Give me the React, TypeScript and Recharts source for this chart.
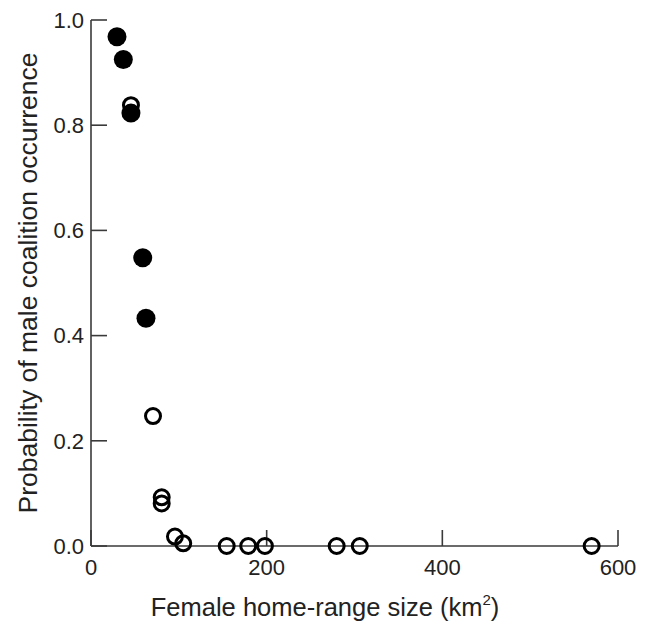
import React from 'react';
import { ScatterChart, Scatter, XAxis, YAxis } from 'recharts';

// female home-range size (km2) vs probability
const filledX = [29.6, 36.8, 45.5, 58.9, 62.6];
const filledY = [0.968, 0.925, 0.823, 0.548, 0.433];
const openX = [45.5, 70.6, 80.5, 80.5, 95.6, 105, 154.5, 179, 198, 279.7, 306, 570];
const openY = [0.838, 0.247, 0.0925, 0.081, 0.018, 0.005, 0, 0, 0, 0, 0, 0];
const xTicks = [0, 200, 400, 600];
const yTicks = [0, 0.2, 0.4, 0.6, 0.8, 1.0];

const filledData = filledX.map((x, i) => ({ x, y: filledY[i] }));
const openData = openX.map((x, i) => ({ x, y: openY[i] }));

const axisColor = '#3a3a3a';
const font = '"Liberation Sans", Arial, sans-serif';

const FilledDot = (props: any) => <circle cx={props.cx} cy={props.cy} r={9.5} fill="#000" />;
const OpenDot = (props: any) => (
  <circle cx={props.cx} cy={props.cy} r={7.5} fill="none" stroke="#000" strokeWidth={3} />
);

const App: React.FC = () => {
  return (
    <div style={{ position: 'absolute', left: 0, top: 0, width: 650, height: 626, background: '#fff' }}>
      <ScatterChart width={650} height={626} margin={{ top: 20, right: 32, left: 0, bottom: 0 }}>
        <XAxis
          type="number"
          dataKey="x"
          domain={[0, 600]}
          ticks={xTicks}
          height={80}
          stroke={axisColor}
          strokeWidth={1.6}
          tickSize={-16}
          tickMargin={29}
          tick={{ fill: '#222', fontSize: 22, fontFamily: font }}
          label={{
            content: () => (
              <text x={325} y={616} textAnchor="middle" fill="#222" fontSize={25.5} fontFamily={font}>
                Female home-range size (km
                <tspan dy={-11} fontSize={15}>2</tspan>
                <tspan dy={11}>)</tspan>
              </text>
            ),
          }}
        />
        <YAxis
          type="number"
          dataKey="y"
          domain={[0, 1]}
          ticks={yTicks}
          width={91}
          stroke={axisColor}
          strokeWidth={1.6}
          tickSize={-16}
          tickMargin={23}
          tickFormatter={(v: number) => v.toFixed(1)}
          tick={{ fill: '#222', fontSize: 22, fontFamily: font }}
          label={{
            content: () => (
              <text
                x={28}
                y={283}
                dy="0.35em"
                transform="rotate(-90 28 283)"
                textAnchor="middle"
                fill="#222"
                fontSize={26.5}
                fontFamily={font}
              >
                Probability of male coalition occurrence
              </text>
            ),
          }}
        />
        <Scatter data={openData} shape={OpenDot} isAnimationActive={false} />
        <Scatter data={filledData} shape={FilledDot} isAnimationActive={false} />
      </ScatterChart>
    </div>
  );
};

export default App;
